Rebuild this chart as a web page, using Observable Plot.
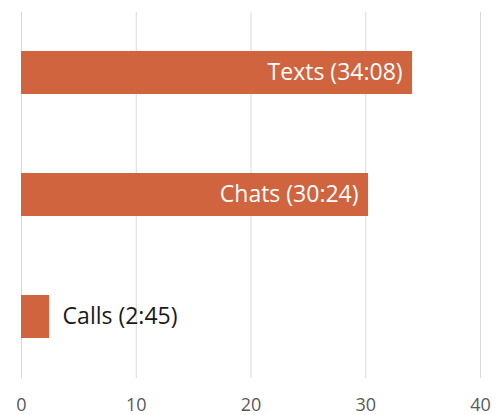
<!DOCTYPE html>
<html>
<head>
<meta charset="utf-8">
<script src="https://cdn.jsdelivr.net/npm/d3@7"></script>
<script src="https://cdn.jsdelivr.net/npm/@observablehq/plot@0.6"></script>
<style>
  html, body { margin: 0; padding: 0; background: #fff; }
  #chart { width: 499px; height: 415px; }
</style>
</head>
<body>
<div id="chart"></div>
<script>
const categories = ["Texts", "Chats", "Calls"];
const values = [34.08, 30.24, 2.45];
const labels = ["Texts (34:08)", "Chats (30:24)", "Calls (2:45)"];
const xTicks = [0, 10, 20, 30, 40];

const data = categories.map((c, i) => ({cat: c, value: values[i], label: labels[i]}));
const barColor = "#D0643F";
const font = "'Open Sans', sans-serif";

const chart = Plot.plot({
  width: 499,
  height: 415,
  marginLeft: 21,
  marginRight: 19,
  marginTop: 12,
  marginBottom: 37,
  style: {fontFamily: font, background: "#fff", overflow: "visible"},
  x: {domain: [0, 40], ticks: xTicks, label: null},
  y: {domain: categories, paddingInner: 0.646, paddingOuter: 0.323, axis: null},
  marks: [
    Plot.ruleX(xTicks, {stroke: "#d9d9d9", strokeWidth: 1}),
    Plot.barX(data, {y: "cat", x: "value", fill: barColor}),
    Plot.text(data.filter(d => d.value > 10), {
      y: "cat", x: "value", text: "label", textAnchor: "end", dx: -10,
      fill: "#fff", fontSize: 23, fontFamily: font
    }),
    Plot.text(data.filter(d => d.value <= 10), {
      y: "cat", x: "value", text: "label", textAnchor: "start", dx: 13,
      fill: "#1a1a1a", fontSize: 23, fontFamily: font
    }),
    Plot.axisX({
      ticks: xTicks, tickSize: 0, tickPadding: 20, label: null,
      fontSize: 18, fill: "#595959", fontFamily: font
    })
  ]
});
document.getElementById("chart").appendChild(chart);
</script>
</body>
</html>
